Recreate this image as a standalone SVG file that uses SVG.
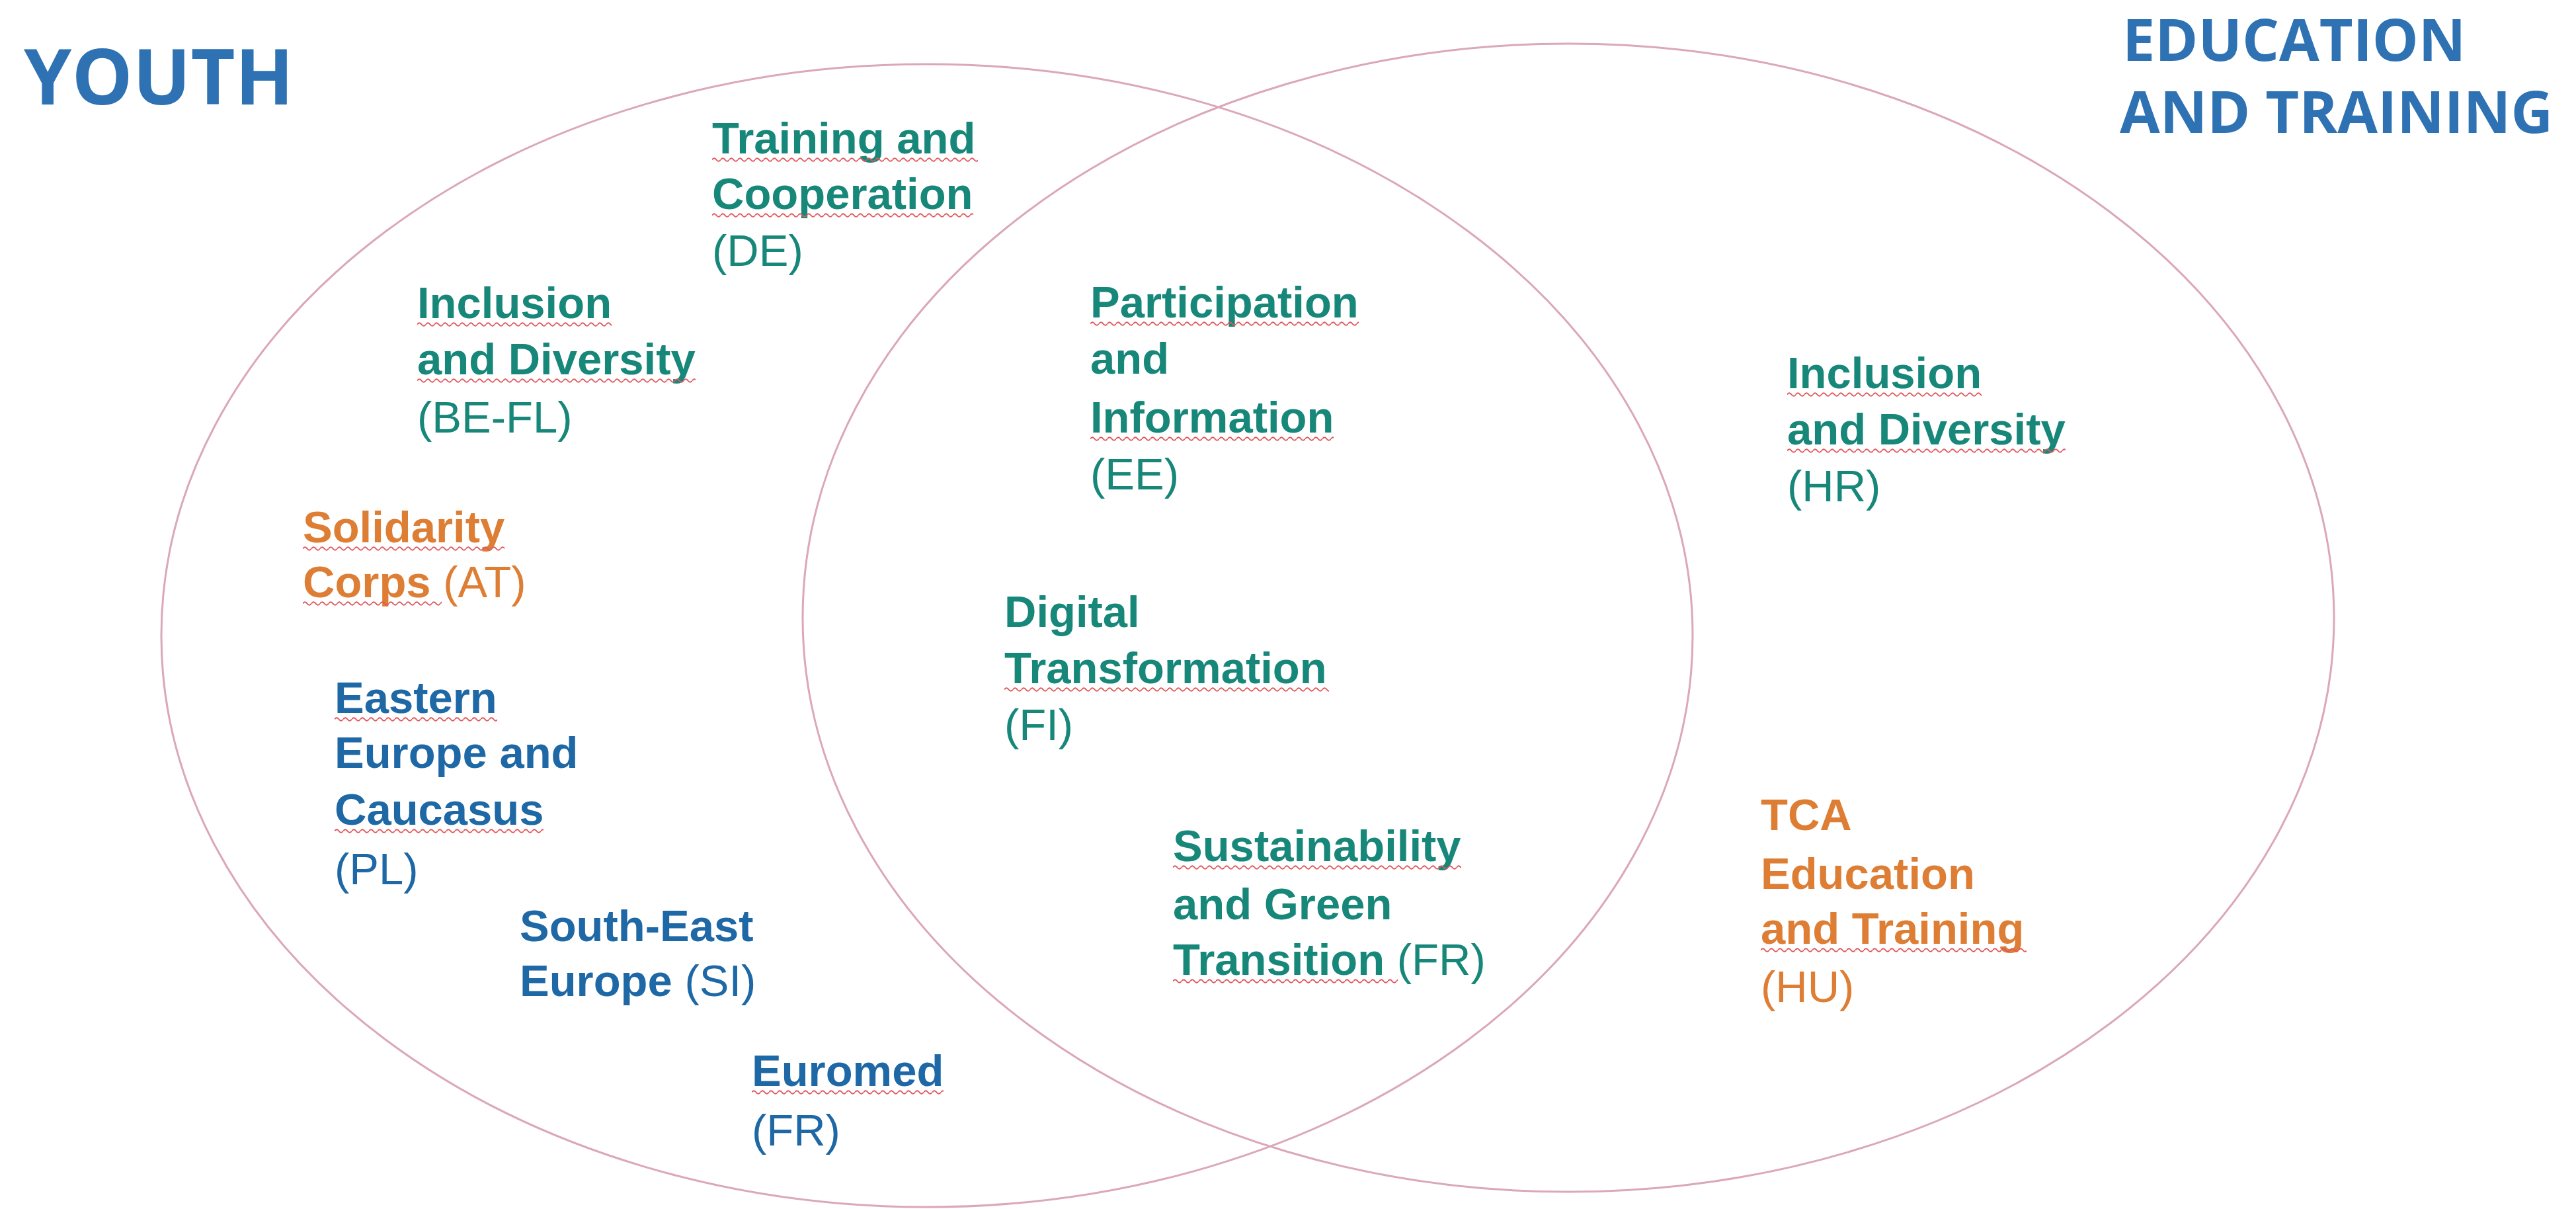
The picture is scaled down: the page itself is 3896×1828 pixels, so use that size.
<svg xmlns="http://www.w3.org/2000/svg" width="3896" height="1828" viewBox="0 0 3896 1828">
  <defs>
    <pattern id="wavy" patternUnits="userSpaceOnUse" x="0" y="0" width="13" height="9">
      <path d="M0 4.5 Q3.25 0 6.5 4.5 T13 4.5" fill="none" stroke="#e0575c" stroke-width="2"/>
    </pattern>
    <style>
      .ring { fill: none; stroke: #dba7ba; stroke-width: 3; }
      .title { font-family: "Open Sans", "Liberation Sans", sans-serif; font-weight: 700; fill: #2e72b3; }
      .lbl { font-family: "Liberation Sans", Arial, sans-serif; font-size: 67px; font-weight: 700; }
      .reg { font-weight: 400; }
      .teal { fill: #17877a; }
      .orange { fill: #dd7e34; }
      .blue { fill: #1f68a6; }
      .sq { fill: url(#wavy); }
    </style>
  </defs>
  <rect x="0" y="0" width="3896" height="1828" fill="#ffffff"/>

  <g id="set-youth">
    <ellipse class="ring" cx="1402" cy="961" rx="1158" ry="864"/>
  </g>
  <g id="set-education">
    <ellipse class="ring" cx="2372" cy="934" rx="1158" ry="868"/>
  </g>

  <g id="title-youth">
    <text class="title" x="36" y="158" font-size="116">YOUTH</text>
  </g>
  <g id="title-education">
    <text class="title" x="3210" y="92" font-size="88">EDUCATION</text>
    <text class="title" x="3206" y="201" font-size="88">AND TRAINING</text>
  </g>

  <g id="node-training-cooperation">
    <text class="lbl teal"><tspan x="1077" y="232">Training and</tspan><tspan x="1077" y="316">Cooperation</tspan><tspan class="reg" x="1077" y="402">(DE)</tspan></text>
    <rect class="sq" transform="translate(1077,237)" width="402" height="9"/>
    <rect class="sq" transform="translate(1077,321)" width="395" height="9"/>
  </g>

  <g id="node-inclusion-youth">
    <text class="lbl teal"><tspan x="631" y="481">Inclusion</tspan><tspan x="631" y="566">and Diversity</tspan><tspan class="reg" x="631" y="654">(BE-FL)</tspan></text>
    <rect class="sq" transform="translate(631,486)" width="294" height="9"/>
    <rect class="sq" transform="translate(631,571)" width="421" height="9"/>
  </g>

  <g id="node-solidarity">
    <text class="lbl orange"><tspan x="458" y="820">Solidarity</tspan><tspan x="458" y="903">Corps <tspan class="reg">(AT)</tspan></tspan></text>
    <rect class="sq" transform="translate(458,825)" width="305" height="9"/>
    <rect class="sq" transform="translate(458,908)" width="210" height="9"/>
  </g>

  <g id="node-eastern-europe">
    <text class="lbl blue"><tspan x="506" y="1078">Eastern</tspan><tspan x="506" y="1161">Europe and</tspan><tspan x="506" y="1247">Caucasus</tspan><tspan class="reg" x="506" y="1337">(PL)</tspan></text>
    <rect class="sq" transform="translate(506,1083)" width="246" height="9"/>
    <rect class="sq" transform="translate(506,1252)" width="316" height="9"/>
  </g>

  <g id="node-south-east-europe">
    <text class="lbl blue"><tspan x="786" y="1423">South-East</tspan><tspan x="786" y="1506">Europe <tspan class="reg">(SI)</tspan></tspan></text>
  </g>

  <g id="node-euromed">
    <text class="lbl blue"><tspan x="1137" y="1642">Euromed</tspan><tspan class="reg" x="1137" y="1732">(FR)</tspan></text>
    <rect class="sq" transform="translate(1137,1647)" width="290" height="9"/>
  </g>

  <g id="node-participation">
    <text class="lbl teal"><tspan x="1649" y="480">Participation</tspan><tspan x="1649" y="565">and</tspan><tspan x="1649" y="654">Information</tspan><tspan class="reg" x="1649" y="740">(EE)</tspan></text>
    <rect class="sq" transform="translate(1649,485)" width="406" height="9"/>
    <rect class="sq" transform="translate(1649,659)" width="368" height="9"/>
  </g>

  <g id="node-digital">
    <text class="lbl teal"><tspan x="1519" y="948">Digital</tspan><tspan x="1519" y="1033">Transformation</tspan><tspan class="reg" x="1519" y="1119">(FI)</tspan></text>
    <rect class="sq" transform="translate(1519,1038)" width="491" height="9"/>
  </g>

  <g id="node-sustainability">
    <text class="lbl teal"><tspan x="1774" y="1302">Sustainability</tspan><tspan x="1774" y="1390">and Green</tspan><tspan x="1774" y="1474">Transition <tspan class="reg">(FR)</tspan></tspan></text>
    <rect class="sq" transform="translate(1774,1307)" width="436" height="9"/>
    <rect class="sq" transform="translate(1774,1479)" width="340" height="9"/>
  </g>

  <g id="node-inclusion-education">
    <text class="lbl teal"><tspan x="2703" y="587">Inclusion</tspan><tspan x="2703" y="672">and Diversity</tspan><tspan class="reg" x="2703" y="758">(HR)</tspan></text>
    <rect class="sq" transform="translate(2703,592)" width="294" height="9"/>
    <rect class="sq" transform="translate(2703,677)" width="421" height="9"/>
  </g>

  <g id="node-tca">
    <text class="lbl orange"><tspan x="2663" y="1255">TCA</tspan><tspan x="2663" y="1344">Education</tspan><tspan x="2663" y="1427">and Training</tspan><tspan class="reg" x="2663" y="1515">(HU)</tspan></text>
    <rect class="sq" transform="translate(2663,1432)" width="402" height="9"/>
  </g>
</svg>
